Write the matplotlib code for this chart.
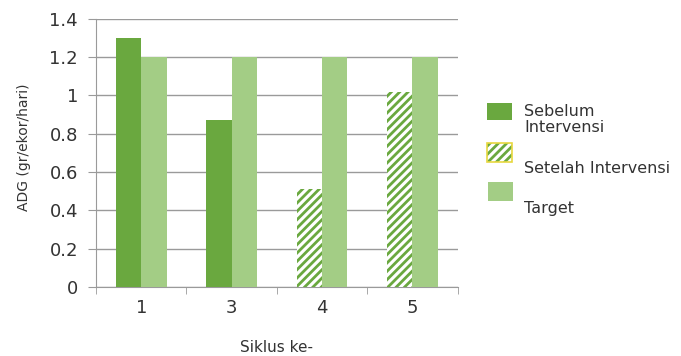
import matplotlib.pyplot as plt
import numpy as np
from matplotlib.patches import Rectangle

plt.rcParams['font.family'] = ['DejaVu Sans']
plt.rcParams['hatch.linewidth'] = 2.0

siklus = ["1", "3", "4", "5"]
sebelum = [1.3, 0.87, None, None]
setelah = [None, None, 0.51, 1.02]
target = [1.2, 1.2, 1.2, 1.2]
legend_labels = ["Sebelum\nIntervensi", "Setelah Intervensi", "Target"]

dark = "#6aa83f"
light = "#a3cd85"
textc = "#333333"

W, H = 681, 356
fig = plt.figure(figsize=(W / 100, H / 100), dpi=100)
ax = fig.add_axes([0.141, 0.194, 0.531, 0.753])

x = np.arange(len(siklus))
w = 0.28

for i in range(len(siklus)):
    if sebelum[i] is not None:
        ax.bar(x[i] - w / 2, sebelum[i], w, color=dark, zorder=3)
    if setelah[i] is not None:
        ax.bar(x[i] - w / 2, setelah[i], w, color="white", edgecolor=dark,
               hatch="////", linewidth=0, zorder=3)
    ax.bar(x[i] + w / 2, target[i], w, color=light, zorder=3)

ax.set_xlim(-0.5, len(siklus) - 0.5)
ax.set_ylim(0, 1.4)
ax.set_yticks(np.arange(0, 1.41, 0.2))
ax.set_yticklabels(["0", "0.2", "0.4", "0.6", "0.8", "1", "1.2", "1.4"])
ax.set_xticks(x)
ax.set_xticklabels(siklus)
ax.set_xticks(np.arange(-0.5, len(siklus), 1), minor=True)

ax.yaxis.grid(True, color="#9a9a9a", linewidth=1.0, zorder=0)
for s in ["top", "right"]:
    ax.spines[s].set_visible(False)
for s in ["left", "bottom"]:
    ax.spines[s].set_color("#9a9a9a")
ax.tick_params(axis="y", length=6, color="#9a9a9a", labelsize=13, pad=7,
               labelcolor=textc)
ax.tick_params(axis="x", which="major", length=0, labelsize=13, pad=9,
               labelcolor=textc)
ax.tick_params(axis="x", which="minor", length=5, color="#9a9a9a")

ax.set_ylabel("ADG (gr/ekor/hari)", fontsize=10, color=textc)
ax.yaxis.set_label_coords(-0.18, 0.52)
ax.set_xlabel("Siklus ke-", fontsize=11, color=textc, labelpad=16)

# legend drawn by hand: (left, top, right, bottom) in pixels from top-left
boxes = [(487, 103, 512, 120), (487, 143, 512, 162), (488, 182, 513, 201)]
text_tops = [104, 161, 201]
styles = [
    dict(facecolor=dark, edgecolor=dark, linewidth=0),
    dict(facecolor="white", edgecolor=dark, hatch="////", linewidth=0),
    dict(facecolor=light, edgecolor=light, linewidth=0),
]
for (l, t, r, b), st in zip(boxes, styles):
    fig.add_artist(Rectangle((l / W, 1 - b / H), (r - l) / W, (b - t) / H,
                             transform=fig.transFigure, **st))
l, t, r, b = boxes[1]
fig.add_artist(Rectangle((l / W, 1 - b / H), (r - l) / W, (b - t) / H,
                         transform=fig.transFigure, facecolor="none",
                         edgecolor="#e8d840", linewidth=1.2))
for lab, tt in zip(legend_labels, text_tops):
    fig.text(524 / W, 1 - tt / H, lab, ha="left", va="top", fontsize=11.5,
             color=textc, linespacing=1.05)

fig.savefig("out.png", dpi=100)
